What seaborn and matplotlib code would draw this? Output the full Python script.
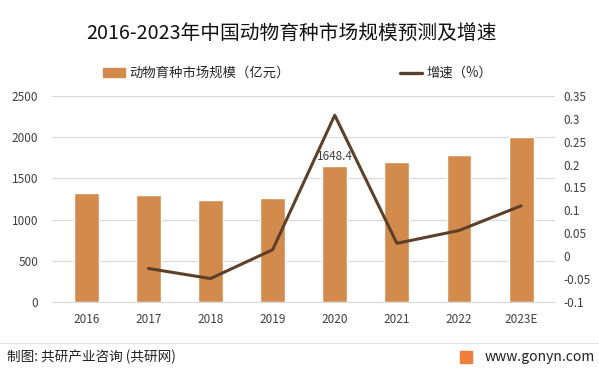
import numpy as np
import pandas as pd
import matplotlib
matplotlib.use("Agg")
import matplotlib.pyplot as plt
from matplotlib.patches import Patch, Rectangle
from matplotlib.lines import Line2D
import seaborn as sns

# data
years = ["2016", "2017", "2018", "2019", "2020", "2021", "2022", "2023E"]
market = [1320, 1300, 1235, 1262, 1648.4, 1700, 1785, 2000]
growth = [np.nan, -0.027, -0.049, 0.014, 0.308, 0.028, 0.056, 0.11]

sns.set_style("white")
plt.rcParams["font.family"] = ["Noto Sans CJK SC", "DejaVu Sans"]

bar_color = "#D38B4D"
line_color = "#5E4029"
tick_color = "#404040"

df = pd.DataFrame({"year": years, "market": market, "growth": growth})
df["pos"] = np.arange(len(years))

fig = plt.figure(figsize=(5.99, 3.75), dpi=100)
ax = fig.add_axes([0.087, 0.195, 0.84, 0.549])

sns.barplot(data=df, x="year", y="market", color=bar_color, width=0.4,
            saturation=1, ax=ax)
ax.set_ylim(0, 2500)
ax.set_yticks(range(0, 2501, 500))
ax.set_xlim(-0.55, 7.55)
ax.grid(axis="y", color="#D9D9D9", linewidth=0.8)
ax.set_axisbelow(True)
ax.set_xlabel("")
ax.set_ylabel("")
for s in ["top", "right", "left"]:
    ax.spines[s].set_visible(False)
ax.spines["bottom"].set_color("#D9D9D9")
ax.tick_params(axis="both", length=0, labelsize=8.5, labelcolor=tick_color)
ax.tick_params(axis="y", pad=10)
ax.tick_params(axis="x", pad=8)

# data label on 2020 bar
i20 = years.index("2020")
ax.text(i20, market[i20] + 40, f"{market[i20]:.1f}", ha="center", va="bottom",
        fontsize=8.5, color=tick_color)

ax2 = ax.twinx()
sns.lineplot(data=df, x="pos", y="growth", color=line_color, linewidth=2.2, ax=ax2)
ax2.set_ylim(-0.1, 0.35)
ticks2 = np.round(np.arange(-0.1, 0.351, 0.05), 2)
ax2.set_yticks(ticks2)
ax2.set_yticklabels([f"{v:g}" for v in ticks2])
ax2.set_xlim(-0.55, 7.55)
ax2.set_xlabel("")
ax2.set_ylabel("")
for s in ["top", "right", "left", "bottom"]:
    ax2.spines[s].set_visible(False)
ax2.tick_params(axis="y", length=0, labelsize=8.5, labelcolor=tick_color, pad=6)

fig.text(0.487, 0.912, "2016-2023年中国动物育种市场规模预测及增速", ha="center",
         va="center", fontsize=14.2, color="#111111")

handles = [Patch(color=bar_color), Line2D([0], [0], color=line_color, lw=2.4)]
fig.legend(handles, ["动物育种市场规模（亿元）", "增速（%）"], loc="center",
           bbox_to_anchor=(0.497, 0.805), ncol=2, frameon=False, fontsize=9.6,
           columnspacing=8.3, handlelength=1.6, handleheight=0.6, handletextpad=0.35)

# footer
fig.add_artist(Line2D([0, 1], [0.086, 0.086], color="#E3E3E3", lw=0.8,
                      transform=fig.transFigure))
fig.text(0.011, 0.047, "制图: 共研产业咨询 (共研网)", fontsize=9.8, va="center",
         color="#222222")
fig.add_artist(Rectangle((0.768, 0.031), 0.02, 0.032, color="#F07F3A",
                         transform=fig.transFigure))
fig.text(0.993, 0.047, "www.gonyn.com", fontsize=10, va="center", ha="right",
         color="#222222")

fig.savefig("out.png", dpi=100)
